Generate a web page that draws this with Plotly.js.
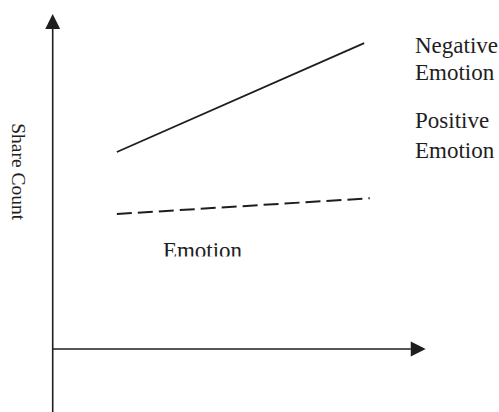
<!DOCTYPE html>
<html>
<head>
<meta charset="utf-8">
<script src="https://cdn.plot.ly/plotly-3.0.1.min.js"></script>
<style>html,body{margin:0;padding:0;background:#fff;}#chart{width:499px;height:412px;}</style>
</head>
<body>
<div id="chart"></div>
<script>
// ---- data (conceptual units: axis origin = 0, arrow tips = 10) ----
const negX = [1.72, 8.35];
const negY = [5.88, 9.13];
const posX = [1.72, 8.5];
const posY = [4.03, 4.5];
const seriesLabels = [["Negative", "Emotion"], ["Positive", "Emotion"]];
const yTitle = "Share Count";
const xTitle = "Emotion";

// ---- layout helpers ----
const W = 499, H = 412;
const ORIGIN_PX = [52.7, 349];
const UNIT_PX = [37.3, 33.5];
const xRange = [-ORIGIN_PX[0] / UNIT_PX[0], (W - ORIGIN_PX[0]) / UNIT_PX[0]];
const yRange = [-(H - ORIGIN_PX[1]) / UNIT_PX[1], ORIGIN_PX[1] / UNIT_PX[1]];
const px = x => x / W;
const py = y => 1 - y / H;
const serif = "'Liberation Serif', 'Times New Roman', Times, serif";
const ink = "#1e1e1e";

const clipTop = 225, clipBottom = 256.5;
const traces = [
  {x: negX, y: negY, mode: "lines", line: {color: ink, width: 1.8}, hoverinfo: "skip", showlegend: false},
  {x: posX, y: posY, mode: "lines", line: {color: ink, width: 2, dash: "15px,6px"}, hoverinfo: "skip", showlegend: false},
  {x: [px(202.5)], y: [(clipBottom - 252) / (clipBottom - clipTop)], xaxis: "x2", yaxis: "y2", mode: "text", text: [xTitle],
   textposition: "middle center", cliponaxis: true,
   textfont: {family: serif, size: 23, color: ink}, hoverinfo: "skip", showlegend: false}
];

const axLine = {color: ink, width: 1.6};
const shapes = [
  {type: "line", xref: "x", yref: "y", x0: 0, x1: 0, y0: yRange[0] - 1, y1: 9.55, line: axLine},
  {type: "path", xref: "x", yref: "y", path: "M -0.2 9.55 L 0.2 9.55 L 0 10 Z", fillcolor: ink, line: {width: 0}},
  {type: "line", xref: "x", yref: "y", x0: 0, x1: 9.6, y0: 0, y1: 0, line: axLine},
  {type: "path", xref: "x", yref: "y", path: "M 9.6 -0.225 L 9.6 0.225 L 10 0 Z", fillcolor: ink, line: {width: 0}}
];

const labelFont = {family: serif, size: 23, color: ink};
const labelRows = [[seriesLabels[0][0], 45.3], [seriesLabels[0][1], 72.2], [seriesLabels[1][0], 120.8], [seriesLabels[1][1], 150.8]];
const annotations = labelRows.map(([t, yc]) => ({
  text: t, xref: "paper", yref: "paper", x: px(413), y: py(yc),
  xanchor: "left", yanchor: "middle", showarrow: false, font: labelFont
}));
annotations.push({
  text: yTitle, xref: "paper", yref: "paper", x: px(18.3), y: py(172.5),
  xanchor: "center", yanchor: "middle", textangle: 90, showarrow: false,
  font: {family: serif, size: 19.5, color: ink}
});

const hidden = {visible: false, fixedrange: true};
const layout = {
  width: W, height: H,
  margin: {l: 0, r: 0, t: 0, b: 0, pad: 0},
  paper_bgcolor: "#fff", plot_bgcolor: "rgba(0,0,0,0)",
  xaxis: Object.assign({range: xRange, domain: [0, 1]}, hidden),
  yaxis: Object.assign({range: yRange, domain: [0, 1]}, hidden),
  xaxis2: Object.assign({range: [0, 1], domain: [0, 1], anchor: "y2"}, hidden),
  yaxis2: Object.assign({range: [0, 1], domain: [py(clipBottom), py(clipTop)], anchor: "x2"}, hidden),
  shapes: shapes,
  annotations: annotations,
  showlegend: false
};

Plotly.newPlot("chart", traces, layout, {staticPlot: true, displayModeBar: false});
</script>
</body>
</html>
